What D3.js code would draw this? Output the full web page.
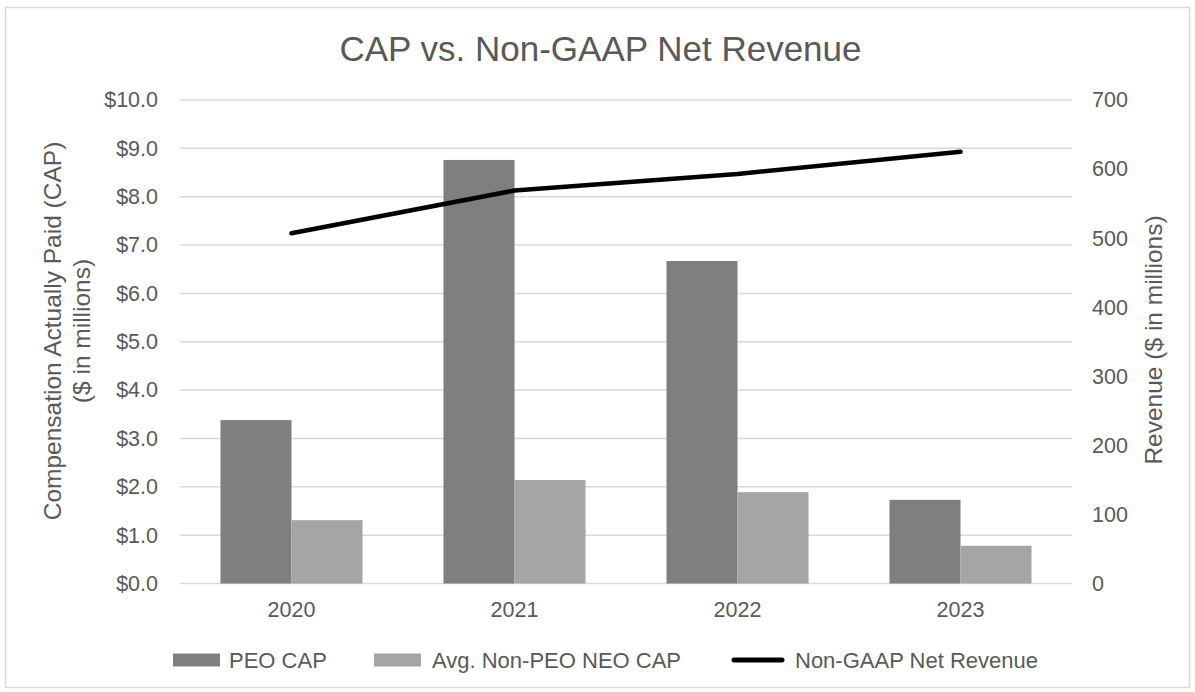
<!DOCTYPE html>
<html>
<head>
<meta charset="utf-8">
<script src="https://cdn.jsdelivr.net/npm/d3@7"></script>
<style>
  body { margin: 0; background: #fff; }
  svg text { font-family: "Liberation Sans", Arial, sans-serif; fill: #595959; }
</style>
</head>
<body>
<div id="chart"></div>
<script>
const years = ["2020", "2021", "2022", "2023"];
const peoCap = [3.38, 8.76, 6.67, 1.73];
const neoCap = [1.31, 2.14, 1.89, 0.78];
const revenue = [507, 569, 593, 625];
const leftTicks = [0, 1, 2, 3, 4, 5, 6, 7, 8, 9, 10];
const rightTicks = [0, 100, 200, 300, 400, 500, 600, 700];
const seriesNames = ["PEO CAP", "Avg. Non-PEO NEO CAP", "Non-GAAP Net Revenue"];

const COLORS = {
  peo: "#7f7f7f",
  neo: "#a5a5a5",
  line: "#000000",
  grid: "#d9d9d9",
};

const width = 1195;
const height = 692;
const plot = { left: 180, right: 1072, top: 100, bottom: 583.5 };

const svg = d3.select("#chart")
  .append("svg")
  .attr("width", width)
  .attr("height", height);

// chart frame
svg.append("rect")
  .attr("x", 5.5).attr("y", 7.5)
  .attr("width", 1184).attr("height", 680)
  .attr("fill", "#fff")
  .attr("stroke", "#d9d9d9")
  .attr("stroke-width", 1.5);

const x0 = d3.scaleBand().domain(years).range([plot.left, plot.right]).padding(0);
const x1 = d3.scaleBand().domain(["peo", "neo"]).range([0, x0.bandwidth()])
  .paddingInner(0).paddingOuter(0.57);
const yL = d3.scaleLinear().domain([0, 10]).range([plot.bottom, plot.top]);
const yR = d3.scaleLinear().domain([0, 700]).range([plot.bottom, plot.top]);

// gridlines
svg.append("g")
  .selectAll("line")
  .data(leftTicks)
  .join("line")
  .attr("x1", plot.left).attr("x2", plot.right)
  .attr("y1", (d) => yL(d)).attr("y2", (d) => yL(d))
  .attr("stroke", COLORS.grid)
  .attr("stroke-width", 1.5);

// left axis
const leftAxis = svg.append("g")
  .attr("transform", `translate(${plot.left - 14},0)`)
  .call(d3.axisLeft(yL).tickValues(leftTicks).tickSize(0).tickPadding(8)
    .tickFormat((d) => "$" + d3.format(".1f")(d)));
leftAxis.select(".domain").remove();
leftAxis.selectAll("text").style("font-size", "21.5px").attr("fill", "#595959");

// right axis
const rightAxis = svg.append("g")
  .attr("transform", `translate(${plot.right + 12},0)`)
  .call(d3.axisRight(yR).tickValues(rightTicks).tickSize(0).tickPadding(8));
rightAxis.select(".domain").remove();
rightAxis.selectAll("text").style("font-size", "21.5px").attr("fill", "#595959");

// bottom axis
const bottomAxis = svg.append("g")
  .attr("transform", `translate(0,${plot.bottom})`)
  .call(d3.axisBottom(x0).tickSize(0).tickPadding(18));
bottomAxis.select(".domain").remove();
bottomAxis.selectAll("text").style("font-size", "21.5px").attr("fill", "#595959");

// bars
const groups = svg.append("g")
  .selectAll("g")
  .data(years)
  .join("g")
  .attr("transform", (d) => `translate(${x0(d)},0)`);

groups.append("rect")
  .attr("x", x1("peo"))
  .attr("width", x1.bandwidth())
  .attr("y", (d, i) => yL(peoCap[i]))
  .attr("height", (d, i) => yL(0) - yL(peoCap[i]))
  .attr("fill", COLORS.peo);

groups.append("rect")
  .attr("x", x1("neo"))
  .attr("width", x1.bandwidth())
  .attr("y", (d, i) => yL(neoCap[i]))
  .attr("height", (d, i) => yL(0) - yL(neoCap[i]))
  .attr("fill", COLORS.neo);

// revenue line
const line = d3.line()
  .x((d, i) => x0(years[i]) + x0.bandwidth() / 2)
  .y((d) => yR(d));

svg.append("path")
  .datum(revenue)
  .attr("d", line)
  .attr("fill", "none")
  .attr("stroke", COLORS.line)
  .attr("stroke-width", 4.5)
  .attr("stroke-linejoin", "round")
  .attr("stroke-linecap", "round");

// title
svg.append("text")
  .attr("x", 600.5).attr("y", 61)
  .attr("text-anchor", "middle")
  .style("font-size", "35px")
  .text("CAP vs. Non-GAAP Net Revenue");

// left axis title
const lt = svg.append("text")
  .attr("transform", "translate(61,331) rotate(-90)")
  .attr("text-anchor", "middle")
  .style("font-size", "24.5px");
lt.append("tspan").attr("x", 0).attr("dy", 0).text("Compensation Actually Paid (CAP)");
lt.append("tspan").attr("x", 0).attr("dy", 29).text("($ in millions)");

// right axis title
svg.append("text")
  .attr("transform", "translate(1162,340) rotate(-90)")
  .attr("text-anchor", "middle")
  .style("font-size", "24.5px")
  .text("Revenue ($ in millions)");

// legend
const legendY = 660;
const legend = svg.append("g");
const legendItems = [
  { name: seriesNames[0], type: "rect", color: COLORS.peo, x: 173, tx: 229 },
  { name: seriesNames[1], type: "rect", color: COLORS.neo, x: 374, tx: 432 },
  { name: seriesNames[2], type: "line", color: COLORS.line, x: 732, tx: 795 },
];

legendItems.forEach((d) => {
  if (d.type === "rect") {
    legend.append("rect")
      .attr("x", d.x).attr("y", legendY - 6.5)
      .attr("width", 47).attr("height", 13)
      .attr("fill", d.color);
  } else {
    legend.append("line")
      .attr("x1", d.x + 2).attr("x2", d.x + 50)
      .attr("y1", legendY).attr("y2", legendY)
      .attr("stroke", d.color)
      .attr("stroke-width", 5)
      .attr("stroke-linecap", "round");
  }
  legend.append("text")
    .attr("x", d.tx).attr("y", legendY + 7.5)
    .style("font-size", "22px")
    .text(d.name);
});
</script>
</body>
</html>
